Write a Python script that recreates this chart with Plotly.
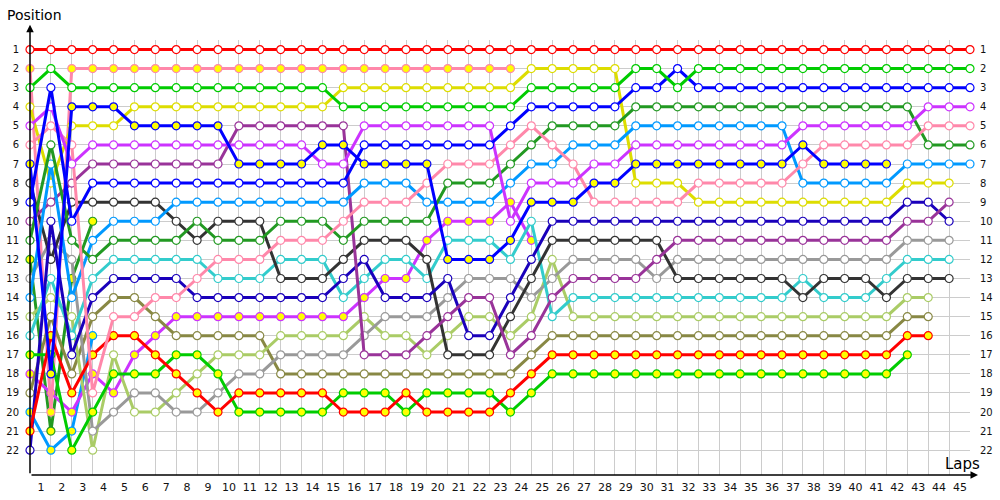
import plotly.graph_objects as go

laps = list(range(0, 46))
lap_labels = [""] + [str(i) for i in range(1, 46)]
positions = list(range(1, 23))

# positions per lap (index = lap, starting at lap 0 = grid)
red = [1] * 46
green = [3, 2] + [3] * 13 + [4] * 9 + [3] * 5 + [2] * 2 + [3] + [2] * 14
blue = [9, 3, 10] + [8] * 13 + [6] * 7 + [5] + [4] * 5 + [3] * 2 + [2] + [3] * 14
magenta = [5, 4, 7] + [6] * 11 + [7] * 2 + [5] * 7 + [10] + [8] * 3 + [7] * 2 + [6] * 8 + [5] * 6 + [4] * 3
pink = [6, 5, 6, 19, 15, 15, 14, 14, 13, 12, 12, 12, 11, 11, 11, 10, 9, 9, 9, 8, 7, 7, 7, 6, 5, 6, 7] + [9] * 5 + [8] * 5 + [7] + [6] * 5 + [5] * 3
dgreen = [11, 6, 11, 12, 11, 11, 11, 11, 10, 11, 11, 11, 10, 10, 10, 11, 10, 10, 10, 10, 8, 8, 8, 7, 6] + [5] * 4 + [4] * 14 + [6] * 3
lblue = [14, 7, 14, 11, 10, 10, 10] + [9] * 9 + [8] * 3 + [9] * 4 + [8, 7, 7, 6, 6, 6] + [5] * 8 + [8] * 5 + [7] * 4
yellow = [4, 8, 5, 5, 5] + [4] * 10 + [3] * 9 + [2] * 5 + [8] * 3 + [9] * 10 + [8] * 3
blue_y = [7, 18, 4, 4, 4] + [5] * 5 + [7] * 4 + [6] * 2 + [7] * 4 + [12] * 3 + [11, 9, 9, 9, 8, 8] + [7] * 8 + [6] + [7] * 4
pink_y = [2, 20] + [2] * 22
purple = [10, 9, 8] + [7] * 7 + [5] * 6 + [17] * 3 + [16, 15, 14, 14, 17, 16, 14] + [13] * 4 + [12] + [11] * 11 + [10, 10, 9]
navy = [22, 10, 17, 14] + [13] * 4 + [14] * 7 + [13, 12, 14, 14, 14, 13, 16, 16, 14, 12] + [10] * 17 + [9, 9, 10]
gray = [13, 11, 12, 21, 20, 19, 19, 20, 20, 19, 18, 18, 17, 17, 17, 17, 16, 15, 15, 15, 14, 13, 13, 13, 14, 13] + [12] * 4 + [13] + [12] * 11 + [11] * 3
cyan = [16, 13, 16, 13] + [12] * 5 + [13] * 3 + [12] * 3 + [14, 13, 12, 12, 13, 11, 11, 11, 12, 10, 15] + [14] * 11 + [13, 14, 14, 14, 13, 12, 12, 12]
black = [8, 12] + [9] * 5 + [10, 11, 10, 10, 10, 13, 13, 13, 12, 11, 11, 11, 12, 17, 17, 17, 15, 13] + [11] * 6 + [13] * 6 + [14, 13, 13, 13, 14, 13, 13, 13]
lgreen = [15, 14, 15, 22, 17, 20, 20, 19, 18, 17, 17, 17, 16, 16, 16, 16, 15, 16, 16, 17, 16, 15, 15, 16, 15, 12] + [15] * 16 + [14, 14]
olive = [19, 15, 18, 15, 14, 14, 15] + [16] * 5 + [18] * 12 + [17] + [16] * 17 + [15, 15]
red_y = [21, 16, 19, 17, 16, 16, 17, 18, 19, 20] + [19] * 5 + [20] * 3 + [19] + [20] * 4 + [19, 18] + [17] * 17 + [16, 16]
green_y = [17, 17, 22, 20, 18, 18, 18, 17, 17, 18] + [20] * 5 + [19] * 3 + [20] + [19] * 4 + [20, 19] + [18] * 17 + [17]
magenta_y = [18, 19, 20, 18, 19, 17, 16] + [15] * 9 + [14, 13, 13, 11, 10, 10, 10, 9, 11]
lblue_y = [20, 22, 21, 16]
dgreen_y = [12, 21, 13, 10]

drivers = [
    (lblue_y, "#0099ff", "#ffff00"),
    (dgreen_y, "#229922", "#ffff00"),
    (magenta_y, "#cc33ff", "#ffff00"),
    (pink_y, "#ff88aa", "#ffff00"),
    (olive, "#888844", "white"),
    (lgreen, "#aacc66", "white"),
    (gray, "#999999", "white"),
    (cyan, "#33cccc", "white"),
    (black, "#333333", "white"),
    (navy, "#1a00bb", "white"),
    (purple, "#993399", "white"),
    (green_y, "#00cc00", "#ffff00"),
    (red_y, "#ff0000", "#ffff00"),
    (yellow, "#dddd00", "white"),
    (lblue, "#0099ff", "white"),
    (dgreen, "#229922", "white"),
    (pink, "#ff88aa", "white"),
    (magenta, "#cc33ff", "white"),
    (blue_y, "#0000ff", "#ffff00"),
    (blue, "#0000ff", "white"),
    (green, "#00cc00", "white"),
    (red, "#ff0000", "white"),
]

fig = go.Figure()
for pos, col, fill in drivers:
    fig.add_trace(go.Scatter(
        x=laps[:len(pos)], y=pos, mode="lines+markers",
        line=dict(color=col, width=3),
        marker=dict(size=8, color=fill, line=dict(color=col, width=1.2)),
        cliponaxis=False, showlegend=False, hoverinfo="skip",
    ))

# dummy trace so the right-hand position axis is drawn
fig.add_trace(go.Scatter(x=[None], y=[None], yaxis="y2", showlegend=False, hoverinfo="skip"))

font_family = "DejaVu Sans"
fig.update_layout(
    width=1000, height=500,
    margin=dict(l=30, r=30, t=40, b=25, autoexpand=False),
    paper_bgcolor="white", plot_bgcolor="white",
    xaxis=dict(range=[0, 45], tickvals=laps, ticktext=lap_labels, ticklabelshift=-10,
               showgrid=True, gridcolor="#cccccc", gridwidth=1, zeroline=False,
               showline=False, ticks="outside", ticklen=2, tickcolor="rgba(0,0,0,0)",
               tickfont=dict(family=font_family, size=11, color="#111")),
    yaxis=dict(range=[23.3, 0.5], tickvals=positions, ticktext=[str(p) for p in positions],
               showgrid=True, gridcolor="#cccccc", gridwidth=1, zeroline=False,
               showline=False, ticks="outside", ticklen=8, tickcolor="rgba(0,0,0,0)",
               tickfont=dict(family=font_family, size=10, color="#111")),
    yaxis2=dict(range=[23.3, 0.5], overlaying="y", side="right", tickvals=positions,
                ticktext=[str(p) for p in positions], showgrid=False, zeroline=False,
                ticks="outside", ticklen=7, tickcolor="rgba(0,0,0,0)",
                tickfont=dict(family=font_family, size=10, color="#111")),
    annotations=[
        dict(xref="paper", yref="paper", x=0, y=1.035, ax=0, ay=450, axref="pixel", ayref="pixel",
             showarrow=True, arrowhead=2, arrowsize=1, arrowwidth=1.5, arrowcolor="black", text=""),
        dict(xref="paper", yref="paper", x=1.0085, y=0, ax=-948, ay=0,
             showarrow=True, arrowhead=2, arrowsize=1, arrowwidth=1.5, arrowcolor="black", text=""),
        dict(xref="paper", yref="paper", x=-0.0265, y=1.058, xanchor="left", yanchor="middle",
             text="Position", showarrow=False, font=dict(family=font_family, size=14, color="black")),
        dict(xref="paper", yref="paper", x=0.9715, y=0.026, xanchor="left", yanchor="middle",
             text="Laps", showarrow=False, font=dict(family=font_family, size=15, color="black")),
    ],
)

fig.write_html("out.html", config={"displayModeBar": False},
               post_script="document.body.style.margin='0';")
